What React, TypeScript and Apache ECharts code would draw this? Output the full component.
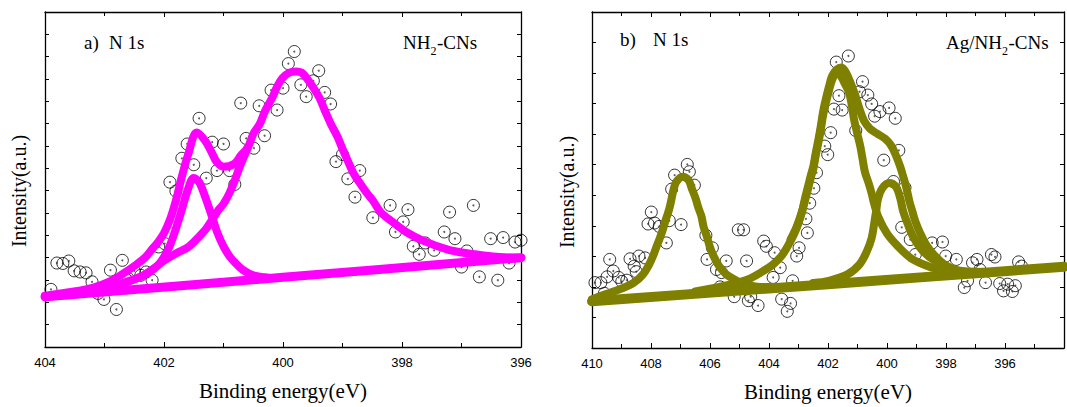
import React, { useEffect, useRef } from "react";
import * as echarts from "echarts";

// ---------- Panel a) NH2-CNs ----------
const leftTicks = [404, 402, 400, 398, 396];
const leftBaseline = [[404, 2.25], [400, 3.12], [396, 4.0]];
const leftEnvelope = [
  [404.0, 2.3], [403.6, 2.45], [403.2, 2.65], [402.9, 2.95], [402.68, 3.3], [402.46, 3.7], [402.32, 4.0],
  [402.21, 4.35], [402.1, 4.7], [402.0, 5.1], [401.9, 5.7], [401.8, 6.56], [401.7, 7.63], [401.59, 8.65],
  [401.45, 9.6], [401.31, 9.24], [401.2, 8.72], [401.11, 8.27], [401.0, 8.07], [400.82, 8.2], [400.71, 8.57],
  [400.59, 8.94], [400.5, 9.54], [400.39, 9.99], [400.3, 10.58], [400.18, 11.17], [400.1, 11.65],
  [400.01, 12.04], [399.89, 12.29], [399.78, 12.34], [399.69, 12.29], [399.61, 12.07], [399.5, 11.65],
  [399.39, 11.17], [399.3, 10.61], [399.2, 10.01], [399.08, 9.39], [399.0, 8.87], [398.9, 8.27],
  [398.81, 7.75], [398.7, 7.31], [398.59, 6.89], [398.49, 6.56], [398.36, 6.04], [398.16, 5.6],
  [397.93, 5.15], [397.64, 4.75], [397.23, 4.36], [396.94, 4.21], [396.66, 4.11], [396.36, 4.03], [396.0, 4.0],
];
const leftComp1 = [
  [404.0, 2.25], [403.4, 2.38], [403.0, 2.55], [402.63, 2.92], [402.4, 3.14], [402.24, 3.36], [402.1, 3.66],
  [402.0, 4.03], [401.9, 4.55], [401.8, 5.3], [401.7, 6.15], [401.6, 7.04], [401.5, 7.57], [401.41, 7.38],
  [401.31, 6.74], [401.2, 5.89], [401.1, 5.1], [401.0, 4.51], [400.89, 4.03], [400.79, 3.74], [400.67, 3.44],
  [400.5, 3.21], [400.3, 3.12], [400.2, 3.09],
];
const leftComp2 = [
  [404.0, 2.27], [403.5, 2.42], [403.0, 2.62], [402.6, 2.92], [402.35, 3.2], [402.18, 3.5], [402.01, 3.85],
  [401.79, 4.2], [401.59, 4.48], [401.39, 5.0], [401.29, 5.3], [401.18, 5.74], [401.09, 6.12], [401.0, 6.41],
  [400.9, 6.89], [400.81, 7.46], [400.73, 8.05], [400.62, 8.75], [400.59, 8.94],
];
const leftMeasured = [
  [399.81, 13.23], [399.91, 12.69], [399.4, 12.37], [399.7, 11.74], [399.49, 11.92], [399.61, 11.21],
  [400.0, 11.59], [400.2, 11.5], [400.1, 10.61], [399.3, 11.4], [399.2, 10.88], [400.4, 10.8], [400.71, 10.92],
  [400.31, 9.46], [400.62, 9.34], [400.49, 8.9], [399.11, 8.3], [399.0, 8.62], [398.71, 7.9], [398.91, 7.53],
  [398.79, 6.71], [398.49, 5.79], [398.2, 6.34], [397.9, 6.15], [397.98, 5.6], [398.11, 5.15], [397.81, 4.51],
  [397.71, 4.15], [397.61, 4.66], [397.46, 4.33], [397.29, 5.15], [397.2, 6.04], [397.11, 4.85], [396.91, 4.3],
  [397.0, 3.58], [396.8, 6.34], [396.7, 3.14], [396.51, 4.85], [396.39, 2.99], [396.3, 4.9], [396.2, 3.76],
  [396.1, 4.7], [396.0, 4.78],
  [403.9, 2.58], [403.8, 3.76], [403.7, 3.74], [403.6, 3.85], [403.51, 3.41], [403.41, 3.36], [403.31, 3.32],
  [403.21, 2.92], [403.11, 2.4], [403.01, 2.13], [402.9, 3.44], [402.8, 1.68], [402.7, 3.88], [402.6, 3.06],
  [402.5, 3.41], [402.39, 3.21], [402.3, 3.36], [402.2, 2.99], [402.09, 4.48], [401.99, 4.63],
  [401.9, 7.38], [401.8, 6.98], [401.7, 8.45], [401.61, 9.09], [401.5, 8.16], [401.41, 10.24], [401.29, 7.56],
  [401.19, 9.17], [401.0, 9.09], [401.11, 7.9], [400.9, 7.9], [400.81, 7.28],
];

// ---------- Panel b) Ag/NH2-CNs ----------
const rightTicks = [410, 408, 406, 404, 402, 400, 398, 396];
const rightBaseline = [[410, 1.53], [402, 2.09], [394, 2.66]];
const rightCompA = [
  [410, 1.6], [409.55, 1.76], [409.04, 1.93], [408.58, 2.14], [408.27, 2.41], [408.06, 2.74], [407.91, 3.06],
  [407.81, 3.33], [407.7, 3.6], [407.6, 3.87], [407.5, 4.2], [407.39, 4.52], [407.31, 4.85], [407.24, 5.17],
  [407.14, 5.44], [406.93, 5.61], [406.73, 5.5], [406.62, 5.23], [406.49, 4.9], [406.39, 4.58], [406.29, 4.31],
  [406.22, 3.98], [406.11, 3.66], [406.01, 3.33], [405.88, 3.01], [405.7, 2.69], [405.45, 2.41], [405.09, 2.2],
  [404.83, 2.09], [404.3, 2.0], [403.5, 2.0],
];
const rightCompB = [
  [406.5, 1.85], [405.3, 2.08], [404.7, 2.25], [404.28, 2.47], [403.86, 2.74], [403.54, 3.06], [403.27, 3.5],
  [403.06, 3.93], [402.9, 4.4], [402.78, 4.82], [402.68, 5.2], [402.58, 5.58], [402.49, 5.9], [402.42, 6.28],
  [402.32, 6.75], [402.25, 7.12], [402.16, 7.65], [402.06, 8.08], [401.96, 8.45], [401.86, 8.78], [401.72, 8.98],
  [401.6, 8.95], [401.45, 8.69], [401.29, 8.37], [401.19, 7.93], [401.12, 7.5], [401.02, 7.07], [400.9, 6.58],
  [400.83, 6.2], [400.75, 5.77], [400.62, 5.39], [400.52, 5.06], [400.44, 4.74], [400.3, 4.3], [400.0, 3.75],
  [399.6, 3.3], [399.2, 2.95], [398.8, 2.75], [398.3, 2.58], [397.8, 2.5], [397.0, 2.45],
];
const rightCompC = [
  [402.5, 2.13], [401.97, 2.2], [401.34, 2.41], [400.93, 2.74], [400.68, 3.17], [400.52, 3.6], [400.44, 4.04],
  [400.37, 4.47], [400.3, 4.9], [400.16, 5.23], [399.93, 5.4], [399.7, 5.28], [399.55, 4.9], [399.45, 4.47],
  [399.29, 4.04], [399.09, 3.6], [398.78, 3.17], [398.37, 2.85], [397.86, 2.63], [397.45, 2.52], [396.5, 2.49],
];
const rightEnvelope = [
  [403.27, 3.55], [403.06, 3.98], [402.88, 4.47], [402.78, 4.9], [402.68, 5.28], [402.58, 5.66], [402.49, 5.98],
  [402.42, 6.36], [402.32, 6.85], [402.25, 7.23], [402.16, 7.77], [402.06, 8.2], [401.96, 8.58], [401.86, 8.91],
  [401.7, 9.12], [401.55, 9.18], [401.39, 9.02], [401.24, 8.69], [401.09, 8.31], [400.93, 7.82], [400.78, 7.44],
  [400.58, 7.18], [400.32, 7.01], [400.06, 6.85], [399.86, 6.63], [399.7, 6.31], [399.55, 5.93], [399.45, 5.61],
  [399.34, 5.23], [399.24, 4.8], [399.14, 4.47], [399.04, 4.15], [398.88, 3.77], [398.68, 3.39], [398.42, 3.06],
  [398.06, 2.74], [397.65, 2.52], [397.45, 2.45], [396.5, 2.48],
];
const rightMeasured = [
  [407.99, 4.45], [408.1, 4.06], [407.88, 4.09], [407.72, 3.98], [407.38, 4.17], [407.48, 3.44], [406.98, 4.04],
  [409.4, 2.9], [409.28, 2.52], [409.49, 2.33], [409.7, 2.14], [409.9, 2.14], [409.58, 1.79], [409.1, 2.31],
  [408.99, 2.18], [408.82, 2.22], [408.71, 2.92], [408.57, 2.68], [408.5, 2.5], [408.41, 3.01], [408.2, 2.95],
  [406.77, 6.01], [406.7, 5.77], [407.2, 5.66], [407.3, 5.2], [406.53, 5.33],
  [406.14, 3.69], [406.1, 2.9], [405.92, 3.28], [405.78, 2.57], [405.61, 2.47], [405.45, 2.85], [405.66, 2.0],
  [405.18, 1.68], [405.04, 3.87], [404.86, 3.87], [404.76, 2.85], [404.62, 1.68], [404.7, 1.55], [404.37, 1.39],
  [404.18, 3.5], [404.09, 3.33], [403.81, 3.12], [403.62, 2.63], [403.86, 2.31], [403.57, 1.6], [403.27, 1.46],
  [403.38, 1.2], [403.2, 2.2], [403.06, 3.01], [402.75, 4.23],
  [401.72, 9.36], [401.31, 9.56], [400.83, 8.72], [401.63, 8.26], [400.93, 8.39], [400.65, 8.28], [400.52, 7.99],
  [400.24, 7.74], [399.93, 7.86], [399.72, 7.52], [400.42, 7.59], [401.8, 7.82], [401.52, 7.79], [401.91, 7.05],
  [402.11, 6.61], [402.01, 6.33], [401.06, 7.12], [400.11, 6.15], [399.6, 6.47], [402.39, 5.74], [402.62, 4.74],
  [402.7, 3.77], [402.98, 3.28], [399.5, 3.95], [399.21, 3.55], [399.04, 3.06], [398.47, 3.44], [398.12, 3.47],
  [398.01, 3.01], [397.65, 2.9], [399.39, 5.25], [402.48, 5.23], [399.78, 5.45],
  [397.38, 1.98], [397.27, 2.2], [397.1, 2.79], [396.95, 2.9], [396.85, 2.57], [396.66, 2.14], [396.46, 3.06],
  [396.34, 2.98], [396.18, 2.11], [396.05, 1.87], [395.91, 2.09], [395.75, 1.85], [395.65, 2.04], [395.54, 2.82],
  [395.44, 2.68],
];

const MAGENTA = "#ff00ff";
const OLIVE = "#808000";
const SERIF = '"Liberation Serif", "Times New Roman", serif';
const SANS = '"Liberation Sans", Arial, sans-serif';

function xAxisPair(gridIndex: number, min: number, max: number, ticks: number[]) {
  const common = {
    gridIndex,
    type: "value",
    min,
    max,
    inverse: true,
    interval: 2,
    splitLine: { show: false },
    axisLine: { onZero: false, lineStyle: { color: "#000", width: 1.3 } },
    axisTick: { inside: true, length: 5, lineStyle: { color: "#000", width: 1 } },
    minorTick: { show: true, splitNumber: 2, length: 4, lineStyle: { color: "#000", width: 1 } },
  };
  return [
    {
      ...common,
      position: "bottom",
      axisLabel: {
        color: "#000",
        fontSize: 13,
        fontFamily: SANS,
        margin: 9,
        formatter: (v: number) => (ticks.includes(v) ? String(v) : ""),
      },
      name: "Binding energy(eV)",
      nameLocation: "middle",
      nameGap: 33,
      nameTextStyle: { fontFamily: SERIF, fontSize: 21, color: "#000" },
    },
    { ...common, position: "top", axisLabel: { show: false } },
  ];
}

function yAxisPair(gridIndex: number, max: number) {
  const common = {
    gridIndex,
    type: "value",
    min: 0,
    max,
    interval: 1,
    splitLine: { show: false },
    axisLine: { onZero: false, lineStyle: { color: "#000", width: 1.3 } },
    axisTick: { inside: true, length: 4, lineStyle: { color: "#000", width: 1 } },
    axisLabel: { show: false },
  };
  return [
    { ...common, position: "left" },
    { ...common, position: "right" },
  ];
}

function curve(data: number[][], color: string, xi: number, yi: number, width: number) {
  return {
    type: "line",
    xAxisIndex: xi,
    yAxisIndex: yi,
    data,
    smooth: 0.35,
    showSymbol: false,
    symbol: "none",
    lineStyle: { color, width, cap: "round", join: "round" },
    silent: true,
    z: 5,
  };
}

function rings(data: number[][], xi: number, yi: number) {
  return [
    {
      type: "scatter",
      xAxisIndex: xi,
      yAxisIndex: yi,
      data,
      symbol: "circle",
      symbolSize: 12,
      itemStyle: { color: "rgba(255,255,255,0)", borderColor: "#000", borderWidth: 1 },
      silent: true,
      z: 2,
    },
    {
      type: "scatter",
      xAxisIndex: xi,
      yAxisIndex: yi,
      data,
      symbol: "circle",
      symbolSize: 2,
      itemStyle: { color: "#333" },
      silent: true,
      z: 2,
    },
  ];
}

function txt(text: string, x: number, y: number, size: number, align = "left") {
  return {
    type: "text",
    x,
    y,
    silent: true,
    style: {
      text,
      fill: "#000",
      font: `${size}px ${SERIF}`,
      textAlign: align,
      textVerticalAlign: "middle",
    },
  };
}

export default function App() {
  const ref = useRef<HTMLDivElement>(null);
  useEffect(() => {
    document.body.style.margin = "0";
    if (!ref.current) return;
    const chart = echarts.init(ref.current, undefined, { renderer: "svg" });
    const option: any = {
      animation: false,
      backgroundColor: "#fff",
      grid: [
        { left: 45, top: 12, width: 476, height: 335 },
        { left: 592, top: 12, width: 520, height: 339 },
      ],
      xAxis: [...xAxisPair(0, 396, 404, leftTicks), ...xAxisPair(1, 394, 410, rightTicks)],
      yAxis: [...yAxisPair(0, 15), ...yAxisPair(1, 11)],
      series: [
        ...rings(leftMeasured, 0, 0),
        curve(leftBaseline, MAGENTA, 0, 0, 9),
        curve(leftComp1, MAGENTA, 0, 0, 8),
        curve(leftComp2, MAGENTA, 0, 0, 8),
        curve(leftEnvelope, MAGENTA, 0, 0, 8),
        ...rings(rightMeasured, 2, 2),
        curve(rightBaseline, OLIVE, 2, 2, 10),
        curve(rightCompA, OLIVE, 2, 2, 8),
        curve(rightCompB, OLIVE, 2, 2, 8),
        curve(rightCompC, OLIVE, 2, 2, 8),
        curve(rightEnvelope, OLIVE, 2, 2, 8),
      ],
      graphic: [
        txt("a)", 84, 42, 19),
        txt("N 1s", 109, 42, 19),
        txt("NH", 403, 42, 19),
        txt("2", 430.5, 51, 12),
        txt("-CNs", 437, 42, 19),
        txt("b)", 620, 39, 19),
        txt("N 1s", 653, 39, 19),
        txt("Ag/NH", 946, 42, 19),
        txt("2", 1002, 51, 12),
        txt("-CNs", 1008.5, 42, 19),
        {
          type: "text",
          x: 19,
          y: 191,
          rotation: Math.PI / 2,
          silent: true,
          style: { text: "Intensity(a.u.)", fill: "#000", font: `20px ${SERIF}`, textAlign: "center", textVerticalAlign: "middle" },
        },
        {
          type: "text",
          x: 567,
          y: 192,
          rotation: Math.PI / 2,
          silent: true,
          style: { text: "Intensity(a.u.)", fill: "#000", font: `20px ${SERIF}`, textAlign: "center", textVerticalAlign: "middle" },
        },
      ],
    };
    chart.setOption(option);
    return () => chart.dispose();
  }, []);
  return <div ref={ref} style={{ width: 1067, height: 407 }} />;
}
